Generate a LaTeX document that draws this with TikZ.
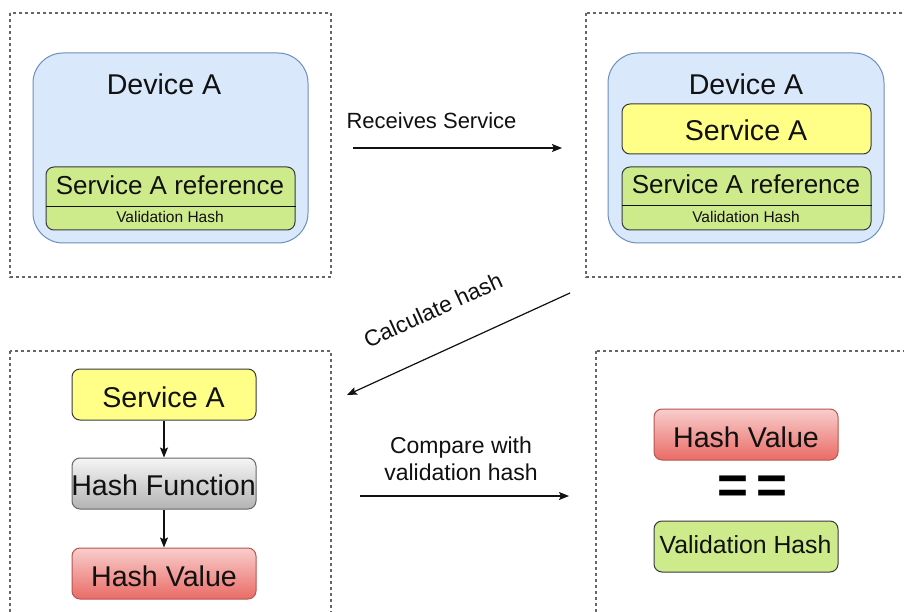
\documentclass[tikz,border=0pt]{standalone}
\usepackage{fontspec}
\setmainfont{Liberation Sans}
\usetikzlibrary{arrows.meta}

\definecolor{devfill}{HTML}{DAE8FC}
\definecolor{devline}{HTML}{6C8EBF}
\definecolor{svcfill}{HTML}{FFFF88}
\definecolor{boxline}{HTML}{36393D}
\definecolor{reffill}{HTML}{CDEB8B}
\definecolor{graytop}{HTML}{F5F5F5}
\definecolor{graybot}{HTML}{B3B3B3}
\definecolor{grayline}{HTML}{666666}
\definecolor{redtop}{HTML}{F8CECC}
\definecolor{redbot}{HTML}{EA6B66}
\definecolor{redline}{HTML}{B85450}
\definecolor{frameline}{HTML}{666666}
\definecolor{ink}{HTML}{111111}

\begin{document}
\begin{tikzpicture}[x=1pt,y=-1pt,
  frame/.style={draw=frameline, line width=1.3pt, dash pattern=on 3pt off 3pt},
  device/.style={draw=devline, fill=devfill, rounded corners=30pt, line width=1pt,
    inner sep=0pt, minimum width=275pt, minimum height=190pt},
  basebox/.style={rounded corners=8pt, line width=1pt, inner sep=0pt},
  svcbox/.style={basebox, draw=boxline, fill=svcfill},
  refbox/.style={basebox, draw=boxline, fill=reffill},
  hashfnbox/.style={basebox, draw=grayline, top color=graytop, bottom color=graybot},
  hashvalbox/.style={basebox, draw=redline, top color=redtop, bottom color=redbot},
  bigtxt/.style={inner sep=0pt, anchor=base, text=ink, font={\fontsize{28.6}{34}\selectfont}},
  reftxt/.style={inner sep=0pt, anchor=base, text=ink, font={\fontsize{26}{31}\selectfont}},
  smalltxt/.style={inner sep=0pt, anchor=base, text=ink, font={\fontsize{15.5}{18}\selectfont}},
  edgetxt/.style={inner sep=0pt, text=ink, font={\fontsize{22}{27}\selectfont}},
  flow/.style={draw=ink, line width=1.2pt, -{Stealth[length=10pt,width=8pt,inset=2pt]}}
]
\useasboundingbox (0,0) rectangle (904,612);
\clip (0,0) rectangle (904,612);
\fill[white] (0,0) rectangle (904,612);

% ---- dashed panels ----
\draw[frame] (10,13) rectangle (331,277);
\draw[frame] (586,13) rectangle (930,277);
\draw[frame] (10,351) rectangle (331,640);
\draw[frame] (596,351) rectangle (930,640);

% ---- panel 1: device holding only the reference ----
\node[device] (devA) at (170.5,148) {};
\node[bigtxt] (devAlbl) at (164,94.5) {Device A};
\node[refbox, minimum width=249pt, minimum height=63pt] (refA) at (170.5,198.5) {};
\draw[draw=ink, line width=1pt] (refA.west |- 0,207) -- (refA.east |- 0,207);
\node[reftxt] (refAlbl) at (170,194.5) {Service A reference};
\node[smalltxt] (refAhash) at (170,222.5) {Validation Hash};

% ---- panel 2: device after receiving the service ----
\node[device, minimum width=276pt] (devB) at (746,148) {};
\node[bigtxt] (devBlbl) at (746,94.5) {Device A};
\node[svcbox, minimum width=249pt, minimum height=50pt] (svcB) at (746.5,129) {};
\node[bigtxt] (svcBlbl) at (746,141) {Service A};
\node[refbox, minimum width=249pt, minimum height=63pt] (refB) at (746.5,198.5) {};
\draw[draw=ink, line width=1pt] (refB.west |- 0,206) -- (refB.east |- 0,206);
\node[reftxt] (refBlbl) at (746,194) {Service A reference};
\node[smalltxt] (refBhash) at (746,222.5) {Validation Hash};

% ---- panel 3: hashing the service ----
\node[svcbox, minimum width=184pt, minimum height=51pt] (svcC) at (164,394.5) {};
\node[bigtxt] (svcClbl) at (163.5,407) {Service A};
\node[hashfnbox, minimum width=184pt, minimum height=51pt] (hashfn) at (164,483.5) {};
\node[bigtxt] (hashfnlbl) at (163.5,495.5) {Hash Function};
\node[hashvalbox, minimum width=184pt, minimum height=51pt] (hashC) at (164,573.5) {};
\node[bigtxt] (hashClbl) at (164,586) {Hash Value};
\draw[flow] (svcC) -- (hashfn);
\draw[flow] (hashfn) -- (hashC);

% ---- panel 4: comparison ----
\node[hashvalbox, minimum width=184pt, minimum height=51pt] (hashD) at (746,434.5) {};
\node[bigtxt] (hashDlbl) at (746,447) {Hash Value};
\node[inner sep=0pt, text=black, font={\fontsize{53}{60}\selectfont\bfseries}] (eq) at (752.5,490) {=\kern9pt=};
\node[refbox, minimum width=184pt, minimum height=51pt] (valD) at (746,546.5) {};
\node[inner sep=0pt, anchor=base, text=ink, font={\fontsize{24.8}{29}\selectfont}] (valDlbl) at (745.5,553) {Validation Hash};

% ---- transitions between panels ----
\coordinate (recvS) at (353,148);
\coordinate (recvE) at (562,148);
\draw[flow] (recvS) -- (recvE);
\node[edgetxt, anchor=base] (recvlbl) at (431.5,128.3) {Receives Service};

\coordinate (calcS) at (570,293);
\coordinate (calcE) at (347,395);
\draw[flow] (calcS) -- (calcE);
\node[edgetxt, font={\fontsize{22.6}{27}\selectfont}, rotate=24.6] (calclbl) at (433,310) {Calculate hash};

\coordinate (cmpS) at (360,496);
\coordinate (cmpE) at (569,496);
\draw[flow] (cmpS) -- (cmpE);
\node[edgetxt, font={\fontsize{23}{26.7}\selectfont}, anchor=base, align=center] (cmplbl) at (461,480) {Compare with\\validation hash};
\end{tikzpicture}
\end{document}
